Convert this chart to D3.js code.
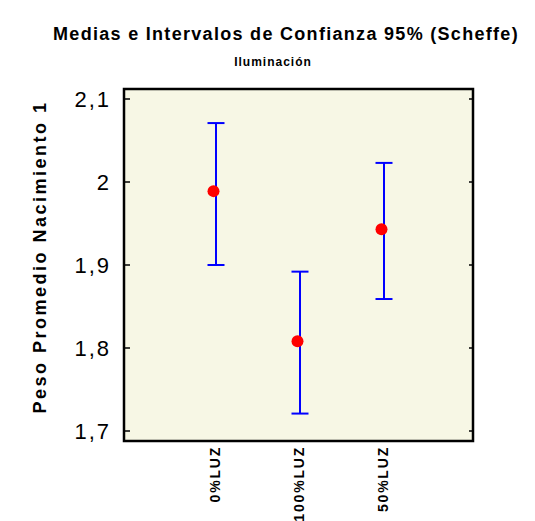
<!DOCTYPE html>
<html>
<head>
<meta charset="utf-8">
<script src="https://cdn.jsdelivr.net/npm/d3@7"></script>
<style>
  body { margin: 0; background: #fff; }
  text { font-family: "Liberation Sans", Arial, sans-serif; }
</style>
</head>
<body>
<svg id="chart" width="535" height="521"></svg>
<script>
// data
var categories = ["0%LUZ", "100%LUZ", "50%LUZ"];
var means = [1.989, 1.808, 1.943];
var lower = [1.900, 1.721, 1.859];
var upper = [2.071, 1.892, 2.023];
var yTicks = [1.7, 1.8, 1.9, 2.0, 2.1];

var svg = d3.select("#chart");

// frame of the plot
var frame = {left: 124, top: 89, right: 473, bottom: 441};

var x = d3.scaleLinear().domain([0, categories.length + 1]).range([132, 468]);
var y = d3.scaleLinear().domain([1.7, 2.1]).range([431, 99]);

var es = d3.formatLocale({decimal: ",", thousands: ".", grouping: [3], currency: ["", ""]});
var fmt = function(v){ return es.format("~g")(v); };

var data = categories.map(function(c, i){
  return {cat: c, idx: i + 1, mean: means[i], lo: lower[i], hi: upper[i]};
});

// background
svg.append("rect")
  .attr("x", frame.left).attr("y", frame.top)
  .attr("width", frame.right - frame.left)
  .attr("height", frame.bottom - frame.top)
  .attr("fill", "#f7f7e5");

// titles
svg.append("text")
  .attr("x", 286).attr("y", 40)
  .attr("text-anchor", "middle")
  .attr("font-weight", "bold")
  .attr("font-size", "18px")
  .attr("letter-spacing", "1.3px")
  .text("Medias e Intervalos de Confianza 95% (Scheffe)");

svg.append("text")
  .attr("x", 273).attr("y", 66)
  .attr("text-anchor", "middle")
  .attr("font-weight", "bold")
  .attr("font-size", "12px")
  .attr("letter-spacing", "1px")
  .text("Iluminación");

// y axis label
svg.append("text")
  .attr("transform", "translate(46," + 257 + ") rotate(-90)")
  .attr("text-anchor", "middle")
  .attr("font-weight", "bold")
  .attr("font-size", "18px")
  .attr("letter-spacing", "2.5px")
  .text("Peso Promedio Nacimiento 1");

// y tick labels
svg.selectAll(".ylab")
  .data(yTicks)
  .enter().append("text")
    .attr("class", "ylab")
    .attr("x", 111)
    .attr("y", function(d){ return y(d); })
    .attr("dy", "0.35em")
    .attr("text-anchor", "end")
    .attr("font-size", "22px")
    .attr("letter-spacing", "2px")
    .text(function(d){ return fmt(d); });

// inward ticks, left and right
svg.selectAll(".ltick")
  .data(yTicks)
  .enter().append("line")
    .attr("x1", frame.left).attr("x2", frame.left + 6)
    .attr("y1", function(d){ return y(d); })
    .attr("y2", function(d){ return y(d); })
    .attr("stroke", "#000").attr("stroke-width", 1.5);

svg.selectAll(".rtick")
  .data(yTicks)
  .enter().append("line")
    .attr("x1", frame.right - 4).attr("x2", frame.right)
    .attr("y1", function(d){ return y(d); })
    .attr("y2", function(d){ return y(d); })
    .attr("stroke", "#000").attr("stroke-width", 1.5);

// x category labels, rotated
svg.selectAll(".xlab")
  .data(data)
  .enter().append("text")
    .attr("class", "xlab")
    .attr("transform", function(d){ return "translate(" + (x(d.idx) + 4) + ",446) rotate(-90)"; })
    .attr("text-anchor", "end")
    .attr("font-weight", "bold")
    .attr("font-size", "14px")
    .attr("letter-spacing", "1.8px")
    .text(function(d){ return d.cat; });

// error bars
var g = svg.append("g");
g.selectAll(".vbar")
  .data(data)
  .enter().append("line")
    .attr("x1", function(d){ return x(d.idx); })
    .attr("x2", function(d){ return x(d.idx); })
    .attr("y1", function(d){ return y(d.lo); })
    .attr("y2", function(d){ return y(d.hi); })
    .attr("stroke", "#0000ff").attr("stroke-width", 2);

["lo", "hi"].forEach(function(k){
  g.selectAll(".cap-" + k)
    .data(data)
    .enter().append("line")
      .attr("x1", function(d){ return x(d.idx) - 8.5; })
      .attr("x2", function(d){ return x(d.idx) + 8.5; })
      .attr("y1", function(d){ return y(d[k]); })
      .attr("y2", function(d){ return y(d[k]); })
      .attr("stroke", "#0000ff").attr("stroke-width", 2);
});

// means
g.selectAll(".pt")
  .data(data)
  .enter().append("circle")
    .attr("cx", function(d){ return x(d.idx) - 2.5; })
    .attr("cy", function(d){ return y(d.mean); })
    .attr("r", 6)
    .attr("fill", "#ff0000");

// frame border on top
svg.append("rect")
  .attr("x", frame.left).attr("y", frame.top)
  .attr("width", frame.right - frame.left)
  .attr("height", frame.bottom - frame.top)
  .attr("fill", "none")
  .attr("stroke", "#000")
  .attr("stroke-width", 2.5);
</script>
</body>
</html>
